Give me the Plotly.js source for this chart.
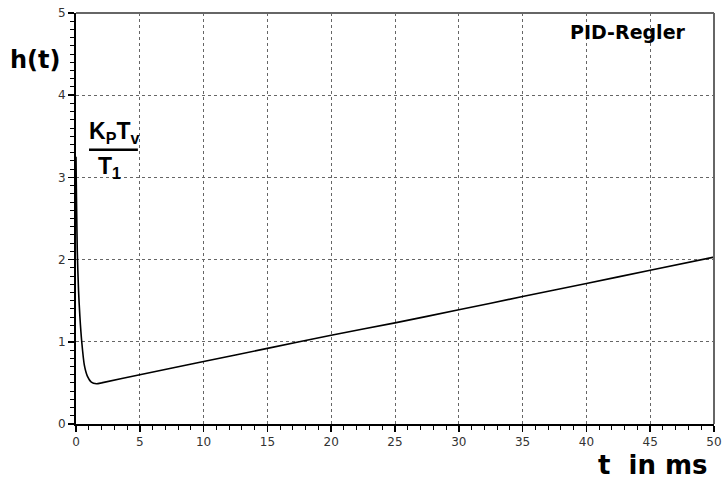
<!DOCTYPE html>
<html>
<head>
<meta charset="utf-8">
<script src="https://cdn.plot.ly/plotly-3.0.1.min.js"></script>
<style>
html,body{margin:0;padding:0;background:#fff;}
#chart{width:723px;height:484px;}
</style>
</head>
<body>
<div id="chart"></div>
<script>
// Step response h(t) of PID controller
const tValues = [0, 0.02, 0.05, 0.1, 0.2, 0.3, 0.45, 0.65, 0.9, 1.2, 1.6, 2, 5, 10, 15, 20, 25, 30, 35, 40, 45, 50];
const hValues = [3.25, 2.95, 2.6, 2.1, 1.62, 1.32, 1.0, 0.72, 0.58, 0.51, 0.49, 0.5, 0.6, 0.76, 0.92, 1.08, 1.23, 1.39, 1.55, 1.71, 1.87, 2.03];
const xTicks = [0, 5, 10, 15, 20, 25, 30, 35, 40, 45, 50];
const yTicks = [0, 1, 2, 3, 4, 5];
const titleText = "PID-Regler";
const yTitle = "h(t)";
const xTitle = "t  in ms";

const tickFont = {family: "DejaVu Sans, Liberation Sans, sans-serif", size: 12, color: "#333"};
const boldFont = "DejaVu Sans, Liberation Sans, sans-serif";

const trace = {
  x: tValues, y: hValues, type: "scatter", mode: "lines",
  line: {color: "#000", width: 1.6, shape: "spline", smoothing: 0.6},
  hoverinfo: "skip", showlegend: false
};

const layout = {
  width: 723, height: 484,
  margin: {l: 76, r: 9, t: 13, b: 60},
  paper_bgcolor: "#fff", plot_bgcolor: "#fff",
  showlegend: false,
  xaxis: {
    range: [0, 50], tickvals: xTicks, ticktext: xTicks.map(String),
    showline: true, linecolor: "#000", linewidth: 2,
    ticks: "outside", ticklen: 6, tickcolor: "#000", tickwidth: 1.5,
    minor: {dtick: 1, ticks: "outside", ticklen: 4, tickcolor: "#000", tickwidth: 1, showgrid: false},
    showgrid: true, gridcolor: "#666", griddash: "dot", gridwidth: 1,
    zeroline: false, tickfont: tickFont, fixedrange: true
  },
  yaxis: {
    range: [0, 5], tickvals: yTicks, ticktext: yTicks.map(String),
    showline: true, linecolor: "#000", linewidth: 2,
    ticks: "outside", ticklen: 6, tickcolor: "#000", tickwidth: 1.5,
    minor: {dtick: 0.1, ticks: "outside", ticklen: 4, tickcolor: "#000", tickwidth: 1, showgrid: false},
    showgrid: true, gridcolor: "#666", griddash: "dot", gridwidth: 1,
    zeroline: false, tickfont: tickFont, fixedrange: true
  },
  shapes: [
    {type: "line", xref: "paper", yref: "paper", x0: 0, x1: 1, y0: 1, y1: 1, line: {color: "#666", width: 2}},
    {type: "line", xref: "paper", yref: "paper", x0: 1, x1: 1, y0: 0, y1: 1, line: {color: "#666", width: 2}},
    {type: "line", xref: "paper", yref: "paper", x0: 0.0204, x1: 0.097, y0: 0.667, y1: 0.667, line: {color: "#000", width: 2.5}}
  ],
  annotations: [
    {text: "<b>" + titleText + "</b>", xref: "paper", yref: "paper", x: 0.865, y: 0.953,
     xanchor: "center", yanchor: "middle", showarrow: false,
     font: {family: boldFont, size: 19, color: "#000"}},
    {text: "<b>" + yTitle + "</b>", xref: "paper", yref: "paper", x: -0.064, y: 0.885,
     xanchor: "center", yanchor: "middle", showarrow: false,
     font: {family: boldFont, size: 24, color: "#000"}},
    {text: "<b>" + xTitle + "</b>", xref: "paper", yref: "paper", x: 0.993, y: -0.1,
     xanchor: "right", yanchor: "middle", showarrow: false,
     font: {family: boldFont, size: 26, color: "#000"}},
    {text: "<b>K<sub>P</sub>T<sub>v</sub></b>", xref: "paper", yref: "paper", x: 0.059, y: 0.669,
     xanchor: "center", yanchor: "bottom", showarrow: false,
     font: {family: "Liberation Sans, Arial, sans-serif", size: 23, color: "#000"}},
    {text: "<b>T<sub>1</sub></b>", xref: "paper", yref: "paper", x: 0.053, y: 0.665,
     xanchor: "center", yanchor: "top", showarrow: false,
     font: {family: "Liberation Sans, Arial, sans-serif", size: 23, color: "#000"}}
  ]
};

Plotly.newPlot("chart", [trace], layout, {displayModeBar: false, staticPlot: true});
</script>
</body>
</html>
